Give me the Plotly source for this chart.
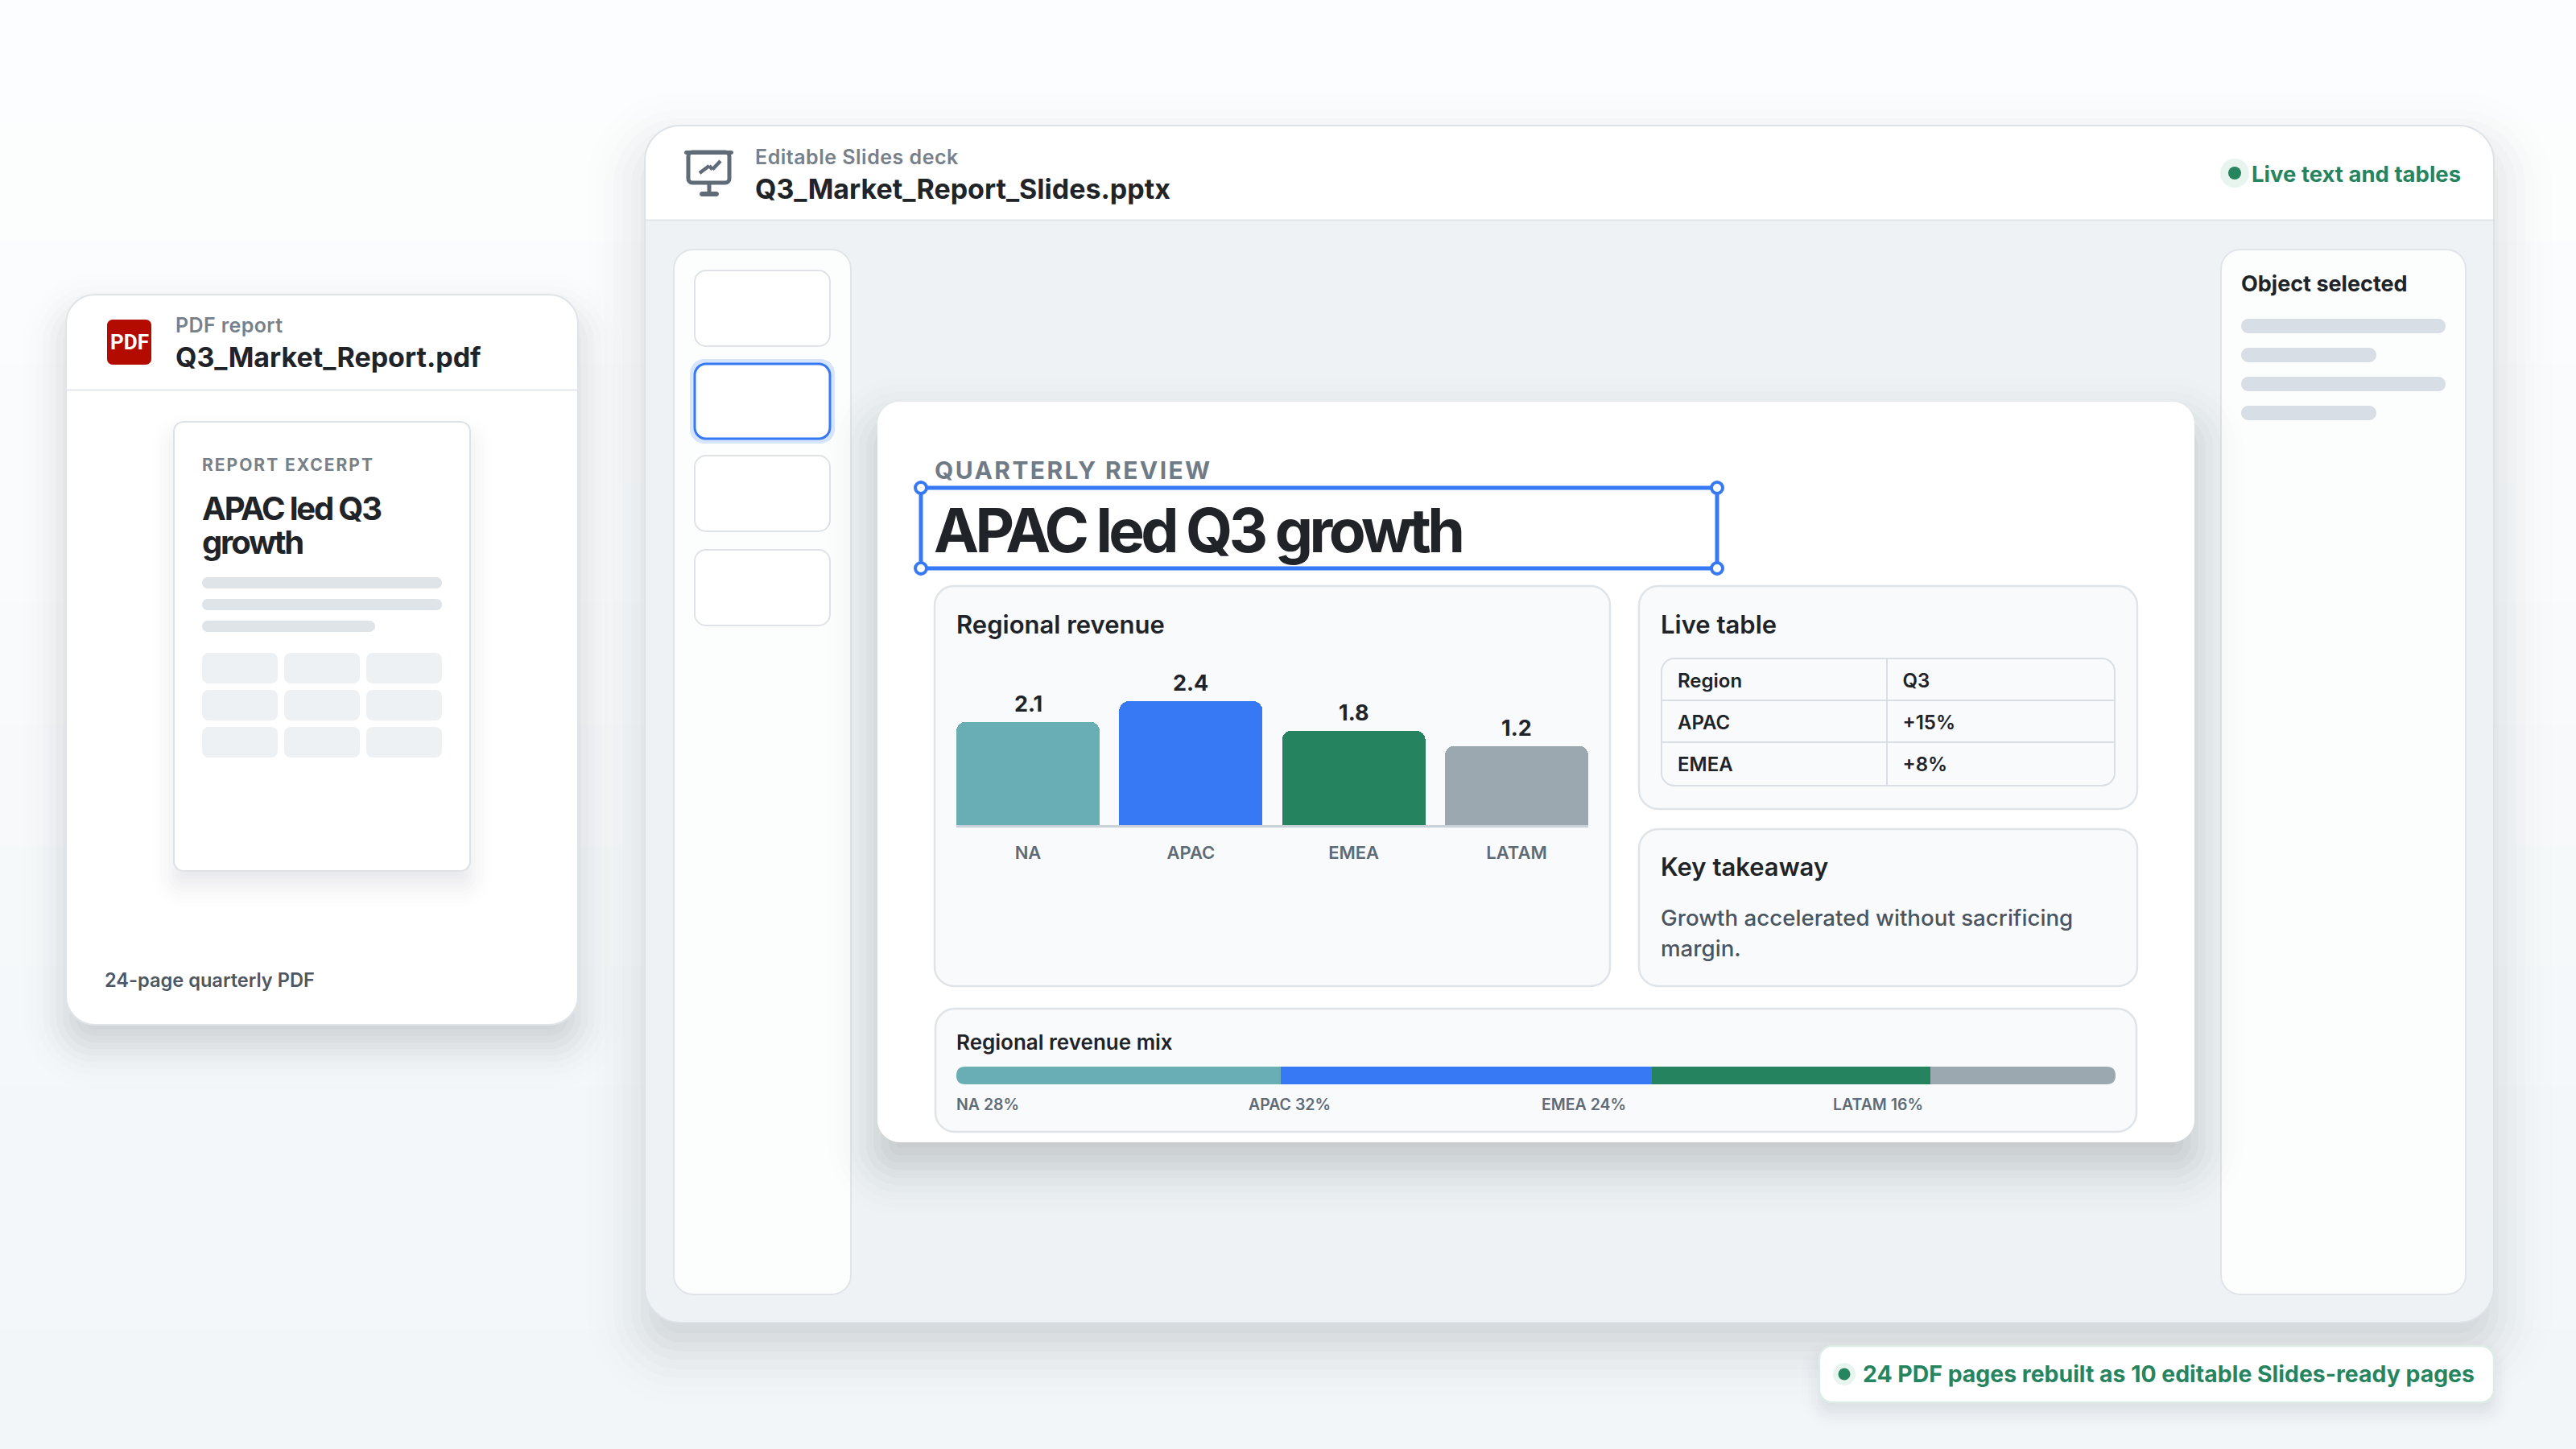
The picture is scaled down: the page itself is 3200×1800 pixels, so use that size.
import math

import plotly.graph_objects as go

W = 3200
H = 1800
FONT = "Inter"

# chart data
regions = ["NA", "APAC", "EMEA", "LATAM"]
bar_labels = ["2.1", "2.4", "1.8", "1.2"]
# heights as drawn in the picture, they do not follow the printed labels exactly
bar_heights = [2.0, 2.4, 1.83, 1.535]
region_colors = ["#6AAEB5", "#3778F5", "#268360", "#9CA8B0"]
mix_values = [28, 32, 24, 16]

table_header = ["Region", "Q3"]
table_regions = ["APAC", "EMEA"]
table_growth = ["+15%", "+8%"]

# page background, top to bottom
bg_bands = ["#FCFDFE", "#FCFDFD", "#FBFCFD", "#FAFBFC", "#F9FBFC", "#F8FAFB",
            "#F7F9FB", "#F6F9FA", "#F5F8FA", "#F4F7F9", "#F3F7F9", "#F3F6F8"]


def px(x):
    return x / W


def py(y):
    return 1 - y / H


def rounded(x0, y0, x1, y1, r):
    k = r * 0.4477
    p = [
        f"M{px(x0 + r)},{py(y0)}",
        f"L{px(x1 - r)},{py(y0)}",
        f"C{px(x1 - k)},{py(y0)} {px(x1)},{py(y0 + k)} {px(x1)},{py(y0 + r)}",
        f"L{px(x1)},{py(y1 - r)}",
        f"C{px(x1)},{py(y1 - k)} {px(x1 - k)},{py(y1)} {px(x1 - r)},{py(y1)}",
        f"L{px(x0 + r)},{py(y1)}",
        f"C{px(x0 + k)},{py(y1)} {px(x0)},{py(y1 - k)} {px(x0)},{py(y1 - r)}",
        f"L{px(x0)},{py(y0 + r)}",
        f"C{px(x0)},{py(y0 + k)} {px(x0 + k)},{py(y0)} {px(x0 + r)},{py(y0)}",
        "Z",
    ]
    return " ".join(p)


shapes = []
notes = []


def box(x0, y0, x1, y1, r, fill, line=None, lw=2, layer="below"):
    shapes.append(dict(
        type="path", path=rounded(x0, y0, x1, y1, r), xref="paper", yref="paper",
        fillcolor=fill, line=dict(color=line or "rgba(0,0,0,0)", width=lw if line else 0),
        layer=layer,
    ))


def shadow(x0, y0, x1, y1, r, dy, blur, alpha, n=18):
    # no blur for shapes, so stack see-through boxes, thin at the outside
    weights = [math.exp(-((2 * k / (n - 1) - 1) * 1.9) ** 2) for k in range(n)]
    total = sum(weights)
    for k in range(n):
        s = blur * (1 - 2 * k / (n - 1))
        a = alpha * weights[k] / total
        box(x0 - s, y0 - s + dy, x1 + s, y1 + s + dy, max(r + s, 2), f"rgba(28,38,52,{a:.4f})")


def seg(x0, y0, x1, y1, color, lw=2):
    shapes.append(dict(
        type="line", x0=px(x0), y0=py(y0), x1=px(x1), y1=py(y1), xref="paper", yref="paper",
        line=dict(color=color, width=lw), layer="below",
    ))


def dot(cx, cy, r, fill, line=None, lw=0, layer="below"):
    shapes.append(dict(
        type="circle", x0=px(cx - r), y0=py(cy - r), x1=px(cx + r), y1=py(cy + r),
        xref="paper", yref="paper", fillcolor=fill,
        line=dict(color=line or "rgba(0,0,0,0)", width=lw), layer=layer,
    ))


def label(x, base, s, size, color, weight=600, spacing=0, anchor="left", family=FONT):
    # base is the text baseline in pixels
    if spacing:
        s = f'<span style="letter-spacing:{spacing}px">{s}</span>'
    notes.append(dict(
        x=px(x), y=py(base - 0.3635 * size), text=s, xref="paper", yref="paper",
        xanchor=anchor, yanchor="middle", align=anchor, showarrow=False, borderpad=0, borderwidth=0,
        font=dict(family=family, size=size, color=color, weight=weight),
    ))


INK = "#202327"
MUTED = "#76818C"
SLATE = "#5F6B76"
BORDER = "#DFE4E9"
GREEN = "#26845F"
BLUE = "#3778F5"
CARD = "#F8FAFC"
SKELETON = "#DFE4E8"

band_h = H / len(bg_bands)
for i, c in enumerate(bg_bands):
    shapes.append(dict(
        type="rect", x0=0, x1=1, y0=py(band_h * (i + 1)), y1=py(band_h * i), xref="paper", yref="paper",
        fillcolor=c, line=dict(width=0), layer="below",
    ))

# pdf card on the left
shadow(82, 366, 718, 1273, 36, 26, 70, 0.20)
box(82, 366, 718, 1273, 36, "#FFFFFF", "#DFE4E9", 2)
seg(82, 484.5, 718, 484.5, "#E3E7EB")
box(133, 397, 188, 453, 7, "#B30B00")
label(161, 434, "PDF", 26, "#FFFFFF", 700, 0, "center", "Liberation Sans Narrow, Roboto")
label(218, 413, "PDF report", 25, MUTED, 600, 0.4)
label(218, 456, "Q3_Market_Report.pdf", 34, INK, 700)

shadow(216, 524, 584, 1082, 12, 18, 42, 0.09)
box(216, 524, 584, 1082, 12, "#FFFFFF", "#DDE2E7", 2)
label(251, 585, "REPORT EXCERPT", 21, MUTED, 700, 2)
label(251, 646, "APAC led Q3", 40, INK, 700, -2.2)
label(251, 688, "growth", 40, INK, 700, -2.2)
for y0, x1 in [(717, 549), (744, 549), (771, 466)]:
    box(251, y0, x1, y0 + 14, 7, SKELETON)
for y0 in [811, 857, 903]:
    for x0 in [251, 353, 455]:
        box(x0, y0, x0 + 94, y0 + 38, 8, "#EEF1F4")
label(130, 1226, "24-page quarterly PDF", 23.6, "#4C5762", 600)

# slides window
shadow(801, 156, 3098, 1643, 44, 30, 95, 0.19)
box(801, 156, 3098, 1643, 44, "#EEF2F5", "#DDE2E7", 2)
k = 43 * 0.4477
shapes.append(dict(
    type="path", xref="paper", yref="paper", layer="below", fillcolor="#FFFFFF",
    line=dict(color="rgba(0,0,0,0)", width=0),
    path=(f"M{px(802)},{py(273)} L{px(802)},{py(200)} "
          f"C{px(802)},{py(157 + k)} {px(802 + k)},{py(157)} {px(845)},{py(157)} "
          f"L{px(3054)},{py(157)} "
          f"C{px(3097 - k)},{py(157)} {px(3097)},{py(157 + k)} {px(3097)},{py(200)} L{px(3097)},{py(273)} Z"),
))
seg(802, 273.5, 3097, 273.5, "#E1E5E9")

# presentation icon
ICON = "#5F6B76"
box(850, 187, 911, 192, 2.5, ICON)
box(855, 189, 906, 227, 5, "rgba(0,0,0,0)", ICON, 5)
seg(881, 227, 881, 241, ICON, 5)
box(869, 238, 893, 244, 3, ICON)
for a, b in [((869, 215), (881, 206)), ((881, 206), (885, 210.5)), ((885, 210.5), (895, 200))]:
    seg(a[0], a[1], b[0], b[1], ICON, 4.5)

label(938, 204, "Editable Slides deck", 25, MUTED, 600, 0.5)
label(938, 247, "Q3_Market_Report_Slides.pptx", 34, INK, 700)

dot(2776, 215, 18, "#E8F5EF")
dot(2776, 215, 8, GREEN)
label(2797, 226, "Live text and tables", 27.5, GREEN, 700)

# side panels
box(837, 310, 1057, 1608, 24, "#FCFDFD", "#E1E5E9", 2)
thumb_tops = [336, 452, 566, 683]
for i, y0 in enumerate(thumb_tops):
    if i == 1:
        box(857, y0 - 6, 1037, y0 + 99, 18, "#D6E4FC")
        box(863, y0, 1031, y0 + 93, 14, "#FFFFFF", BLUE, 3)
    else:
        box(863, y0, 1031, y0 + 94, 14, "#FFFFFF", "#DFE3E7", 2)

box(2759, 310, 3063, 1608, 24, "#FCFDFD", "#E1E5E9", 2)
label(2784, 362, "Object selected", 27, INK, 700)
for y0, x1 in [(396, 3038), (432, 2952), (468, 3038), (504, 2952)]:
    box(2784, y0, x1, y0 + 18, 9, "#D8DEE5")

# slide
shadow(1090, 499, 2726, 1419, 28, 30, 80, 0.21)
box(1090, 499, 2726, 1419, 28, "#FFFFFF")
label(1161, 595, "QUARTERLY REVIEW", 30, "#6F7B87", 700, 2.4)
label(1160, 685.5, "APAC led Q3 growth", 75, INK, 700, -4.6)
box(1144, 606, 2133, 706, 0.5, "rgba(0,0,0,0)", BLUE, 5)
for cx, cy in [(1144, 606), (2133, 606), (1144, 706), (2133, 706)]:
    dot(cx, cy, 7, "#FFFFFF", BLUE, 4)

# cards
box(1161, 728, 2000, 1225, 24, CARD, BORDER, 2.5)
label(1188, 786.5, "Regional revenue", 31, INK, 600)
box(2036, 728, 2655, 1005, 24, CARD, BORDER, 2.5)
label(2063, 787, "Live table", 31, INK, 600)
box(2036, 1030, 2655, 1225, 24, CARD, BORDER, 2.5)
label(2063, 1088, "Key takeaway", 31, INK, 600)
label(2063, 1150, "Growth accelerated without sacrificing", 27.7, "#4A5560", 500)
label(2063, 1188.5, "margin.", 27.7, "#4A5560", 500)
box(1162, 1253, 2654, 1406, 24, CARD, BORDER, 2.5)
label(1188, 1304, "Regional revenue mix", 26, INK, 600)

# table outline, the text itself is a table trace
box(2064, 818, 2627, 976, 16, "rgba(0,0,0,0)", "#D9DFE5", 2)
seg(2344, 818, 2344, 976, "#D9DFE5")
seg(2064, 870, 2627, 870, "#D9DFE5")
seg(2064, 922, 2627, 922, "#D9DFE5")

# mix labels
mix_label_x = [1188, 1551, 1914.5, 2277]
for x, name, v in zip(mix_label_x, regions, mix_values):
    label(x, 1379, f"{name} {v}%", 19.5, SLATE, 600)

# round the outer ends of the stacked bar
for x0, x1 in [(1188, 1199), (2617, 2628)]:
    cx = x0 if x0 == 1188 else x1
    for y0, y1 in [(1325, 1336), (1347, 1336)]:
        shapes.append(dict(
            type="path", xref="paper", yref="paper", layer="above", fillcolor=CARD,
            line=dict(color="rgba(0,0,0,0)", width=0),
            path=(f"M{px(cx)},{py(y0)} L{px(x1 if cx == x0 else x0)},{py(y0)} "
                  f"Q{px(cx)},{py(y0)} {px(cx)},{py(y1)} Z"),
        ))

# bottom pill
shadow(2260, 1672, 3098, 1742, 16, 12, 34, 0.12)
box(2260, 1672, 3098, 1742, 16, "#FFFFFF", "#DDEDE6", 2.5)
dot(2291, 1707, 14, "#E8F5EF")
dot(2291, 1707, 7.5, GREEN)
label(2314, 1717, "24 PDF pages rebuilt as 10 editable Slides-ready pages", 28.4, GREEN, 700)

fig = go.Figure()

# bars
fig.add_trace(go.Bar(
    x=regions, y=bar_heights, marker=dict(color=region_colors, line_width=0, cornerradius=12),
    xaxis="x", yaxis="y", showlegend=False, hoverinfo="skip",
))
for name, h, lab in zip(regions, bar_heights, bar_labels):
    notes.append(dict(
        x=name, y=h, xref="x", yref="y", text=lab, showarrow=False, yanchor="bottom", yshift=4,
        font=dict(family=FONT, size=27, color=INK, weight=700),
    ))

# stacked mix bar
for name, v, c in zip(regions, mix_values, region_colors):
    fig.add_trace(go.Bar(
        y=["mix"], x=[v], orientation="h", width=1, marker=dict(color=c, line_width=0),
        xaxis="x2", yaxis="y2", showlegend=False, hoverinfo="skip", name=name,
    ))

# cell text has a fixed inset, so the table sits a little off its drawn outline
fig.add_trace(go.Table(
    domain=dict(x=[px(2076), px(2639)], y=[py(986), py(828)]),
    columnwidth=[280, 283],
    header=dict(
        values=table_header, height=52, align="left", fill_color="rgba(0,0,0,0)",
        line_color="rgba(0,0,0,0)", font=dict(family=FONT, size=24, color=INK, weight=600),
    ),
    cells=dict(
        values=[table_regions, table_growth], height=52, align="left", fill_color="rgba(0,0,0,0)",
        line_color="rgba(0,0,0,0)", font=dict(family=FONT, size=24, color=INK, weight=600),
    ),
))

fig.update_layout(
    width=W,
    height=H,
    margin=dict(l=0, r=0, t=0, b=0),
    paper_bgcolor="#F5F8FA",
    plot_bgcolor="rgba(0,0,0,0)",
    barmode="stack",
    bargap=0.12,
    shapes=shapes,
    annotations=notes,
    xaxis=dict(
        domain=[px(1188), px(1973)], range=[-0.44, 3.44], type="category", anchor="y",
        showgrid=False, zeroline=False, showline=True, linecolor="#C9D1D9", linewidth=2.5,
        ticks="", ticklabelstandoff=13, tickfont=dict(family=FONT, size=22, color=SLATE, weight=600),
    ),
    yaxis=dict(
        domain=[py(1025), py(1025 - 192.5)], range=[0, 3], anchor="x", visible=False,
    ),
    xaxis2=dict(
        domain=[px(1188), px(2628)], range=[0, 100], anchor="y2", visible=False,
    ),
    yaxis2=dict(
        domain=[py(1347), py(1325)], range=[-0.5, 0.5], anchor="x2", visible=False,
    ),
)

# the browser's default body margin would push the figure off the corner
fig.write_html("out.html", config={"displayModeBar": False}, post_script="document.body.style.margin='0';")
